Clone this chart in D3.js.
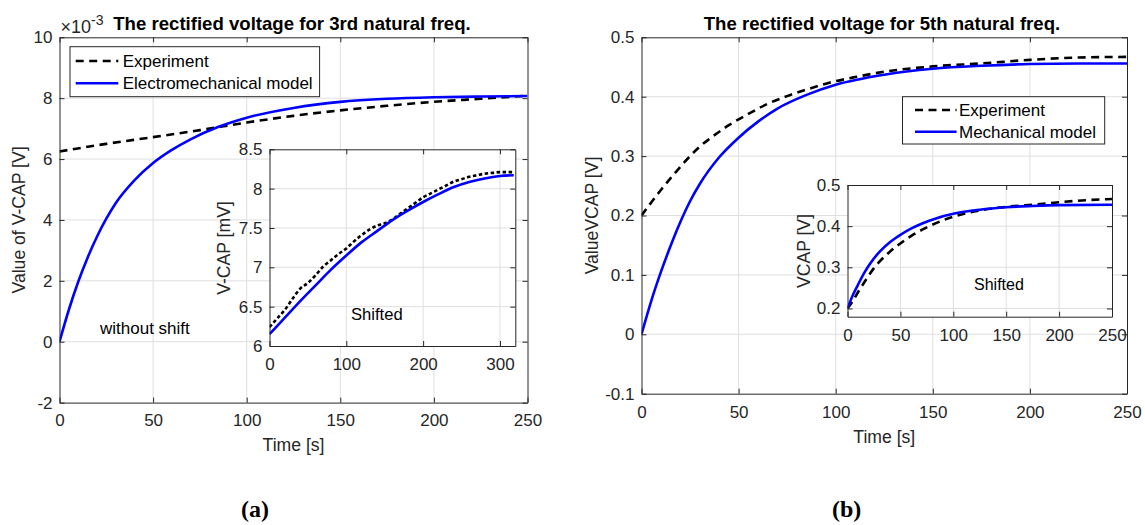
<!DOCTYPE html>
<html><head><meta charset="utf-8">
<script src="https://cdn.jsdelivr.net/npm/d3@7"></script>
<style>
body{margin:0;background:#fff;}
svg{display:block;font-family:"Liberation Sans",Arial,Helvetica,sans-serif;}
</style></head><body>
<svg id="chart" width="1145" height="525"></svg>
<script>
// ---------------- DATA ----------------
// Panel (a) main: 3rd natural frequency (values x 1e-3 V)
const timeA   = [0,5,10,15,20,25,30,40,50,60,70,85,100,125,150,175,200,225,250];
const modelA  = [0,1.05,1.97,2.76,3.45,4.04,4.55,5.3,5.87,6.3,6.65,7.06,7.36,7.68,7.88,7.98,8.03,8.055,8.07];
const timeExpA = [0,25,50,75,100,125,150,175,200,225,250];
const expA     = [6.25,6.5,6.72,6.95,7.2,7.42,7.6,7.75,7.88,7.98,8.08];
// Panel (a) inset (mV)
const timeInsA = [0,20,40,60,80,100,120,140,160,180,200,220,240,260,280,300,318];
const modelInsA = [6.15,6.36,6.57,6.77,6.97,7.15,7.32,7.46,7.6,7.72,7.83,7.93,8.02,8.085,8.13,8.16,8.17];
const timeExpInsA = [0,10,20,30,40,50,60,70,80,90,100,110,120,130,140,150,160,170,180,190,200,210,220,230,240,250,260,270,280,290,300,318];
const expInsA = [6.24,6.35,6.46,6.6,6.73,6.8,6.9,7.01,7.09,7.17,7.24,7.33,7.41,7.48,7.53,7.56,7.61,7.68,7.75,7.82,7.89,7.94,7.99,8.04,8.09,8.12,8.15,8.17,8.19,8.2,8.21,8.21];
// Panel (b) main: 5th natural frequency (V)
const timeB  = [0,5,10,15,20,25,30,40,50,60,70,85,100,125,150,175,200,225,250];
const modelB = [0,0.056,0.105,0.149,0.189,0.224,0.253,0.298,0.331,0.358,0.38,0.403,0.42,0.437,0.447,0.452,0.455,0.456,0.456];
const timeExpB = [0,5,10,15,20,25,30,35,45,55,65,75,85,95,110,125,150,175,200,225,250];
const expB     = [0.2,0.222,0.243,0.263,0.282,0.3,0.316,0.329,0.352,0.371,0.388,0.401,0.412,0.422,0.433,0.442,0.451,0.456,0.462,0.466,0.467];
// Panel (b) inset
const timeInsB  = [0,5,10,15,20,30,40,50,60,70,85,100,125,150,175,200,250];
const modelInsB = [0.2,0.232,0.258,0.283,0.304,0.337,0.361,0.379,0.394,0.406,0.42,0.43,0.44,0.446,0.449,0.451,0.452];
const timeExpInsB = [0,5,10,15,20,25,30,40,50,60,75,90,100,125,150,175,200,225,250];
const expInsB     = [0.2,0.218,0.24,0.26,0.28,0.298,0.313,0.338,0.358,0.376,0.397,0.414,0.423,0.438,0.447,0.452,0.458,0.463,0.466];

// Ticks
const xTicksMain = [0,50,100,150,200,250];
const yTicksA = [-2,0,2,4,6,8,10];
const xTicksInsA = [0,100,200,300];
const yTicksInsA = [6,6.5,7,7.5,8,8.5];
const yTicksB = [-0.1,0,0.1,0.2,0.3,0.4,0.5];
const xTicksInsB = [0,50,100,150,200,250];
const yTicksInsB = [0.2,0.3,0.4,0.5];

// Texts
const titleA = "The rectified voltage for 3rd natural freq.";
const titleB = "The rectified voltage for 5th natural freq.";
const legendA = ["Experiment","Electromechanical model"];
const legendB = ["Experiment","Mechanical model"];

// ---------------- DRAW ----------------
const svg = d3.select("#chart");
const AX = "#262626", GRID = "#dfdfdf", BLUE = "#0000ff";
const fmt = d => String(d);
let clipId = 0;

function axesBox(x, y, xt, yt, opts) {
  const g = svg.append("g");
  const [x0, x1] = x.range(), [yb, yt0] = y.range();
  g.append("rect").attr("x", x0).attr("y", yt0).attr("width", x1 - x0).attr("height", yb - yt0).attr("fill", "#fff");
  g.append("g").selectAll("line").data(xt.filter(d => x(d) > x0 + 1 && x(d) < x1 - 1)).join("line")
    .attr("x1", d => x(d)).attr("x2", d => x(d)).attr("y1", yb).attr("y2", yt0).attr("stroke", GRID).attr("stroke-width", 1);
  g.append("g").selectAll("line").data(yt.filter(d => y(d) < yb - 1 && y(d) > yt0 + 1)).join("line")
    .attr("y1", d => y(d)).attr("y2", d => y(d)).attr("x1", x0).attr("x2", x1).attr("stroke", GRID).attr("stroke-width", 1);
  const id = "clip" + (clipId++);
  svg.append("clipPath").attr("id", id).append("rect").attr("x", x0).attr("y", yt0).attr("width", x1 - x0).attr("height", yb - yt0);
  const curves = g.append("g").attr("clip-path", `url(#${id})`);
  return {g, curves, finish: () => {
    const f = svg.append("g").attr("font-size", opts.fs || 17);
    const bx = d3.axisBottom(x).tickValues(xt).tickFormat(fmt).tickSizeInner(-5).tickSizeOuter(0).tickPadding(opts.xpad || 11.8);
    const tx = d3.axisTop(x).tickValues(xt).tickFormat("").tickSizeInner(-5).tickSizeOuter(0);
    const ly = d3.axisLeft(y).tickValues(yt).tickFormat(fmt).tickSizeInner(-5).tickSizeOuter(0).tickPadding(opts.ypad || 7);
    const ry = d3.axisRight(y).tickValues(yt).tickFormat("").tickSizeInner(-5).tickSizeOuter(0);
    [[bx, `translate(0,${yb})`], [tx, `translate(0,${yt0})`], [ly, `translate(${x0},0)`], [ry, `translate(${x1},0)`]].forEach(([a, t]) => {
      const ag = f.append("g").attr("transform", t).call(a);
      ag.attr("font-family", null).attr("font-size", null);
      ag.selectAll("path,line").attr("stroke", AX).attr("stroke-width", 1);
      ag.selectAll("text").attr("fill", AX);
    });
  }};
}

function drawLine(parent, xs, ys, x, y, dashed, w, dash) {
  const line = d3.line().x((d, i) => x(xs[i])).y(d => y(d)).curve(d3.curveMonotoneX);
  parent.append("path").attr("d", line(ys)).attr("fill", "none")
    .attr("stroke", dashed ? "#000" : BLUE).attr("stroke-width", w || 2.6)
    .attr("stroke-dasharray", dashed ? (dash || "8,5.5") : null);
}

function legend(x0, y0, w, h, labels, lx0, lx1, tx, ys) {
  const g = svg.append("g");
  g.append("rect").attr("x", x0).attr("y", y0).attr("width", w).attr("height", h).attr("fill", "#fff").attr("stroke", AX).attr("stroke-width", 1);
  labels.forEach((lab, i) => {
    g.append("line").attr("x1", lx0).attr("x2", lx1).attr("y1", ys[i]).attr("y2", ys[i])
      .attr("stroke", i === 0 ? "#000" : BLUE).attr("stroke-width", 2.6).attr("stroke-dasharray", i === 0 ? "8,5.5" : null);
    g.append("text").attr("x", tx).attr("y", ys[i] + 6).attr("font-size", 17).attr("fill", "#000").text(lab);
  });
}

function text(x, y, s, o = {}) {
  const t = svg.append("text").attr("x", x).attr("y", y).attr("font-size", o.fs || 17).attr("fill", o.fill || AX)
    .attr("text-anchor", o.anchor || "start").attr("font-weight", o.bold ? "bold" : null).text(s);
  if (o.rot) t.attr("transform", `rotate(-90,${x},${y})`);
  if (o.family) t.attr("font-family", o.family);
  return t;
}

// ===== Panel (a) =====
const xA = d3.scaleLinear().domain([0, 250]).range([59.5, 527.5]);
const yA = d3.scaleLinear().domain([-2, 10]).range([402.6, 37.3]);
const A = axesBox(xA, yA, xTicksMain, yTicksA, {});
drawLine(A.curves, timeExpA, expA, xA, yA, true);
drawLine(A.curves, timeA, modelA, xA, yA, false);
A.finish();
legend(70, 46.7, 249.6, 50, legendA, 75.7, 118.3, 122.7, [61, 83.3]);
text(100, 334, "without shift", {fs: 17, fill: "#000"});

const xIA = d3.scaleLinear().domain([0, 320]).range([269.5, 515.3]);
const yIA = d3.scaleLinear().domain([6, 8.5]).range([346, 149.3]);
const IA = axesBox(xIA, yIA, xTicksInsA, yTicksInsA, {});
drawLine(IA.curves, timeExpInsA, expInsA, xIA, yIA, true, 2.6, "3.5,2.5");
drawLine(IA.curves, timeInsA, modelInsA, xIA, yIA, false);
IA.finish();
text(351, 320, "Shifted", {fs: 16.6, fill: "#000"});

text(292, 30, titleA, {fs: 18.6, bold: true, anchor: "middle", fill: "#000"});
const ex = text(60.5, 33, "×10", {fs: 18});
ex.append("tspan").attr("dy", -8).attr("font-size", 14).text("-3");
text(25.3, 220, "Value of V-CAP [V]", {fs: 17.6, anchor: "middle", rot: true});
text(230.3, 248, "V-CAP [mV]", {fs: 17.6, anchor: "middle", rot: true});
text(293.5, 451, "Time [s]", {fs: 17.6, anchor: "middle"});
text(255, 517, "(a)", {fs: 24, anchor: "middle", bold: true, fill: "#000", family: "'Liberation Serif','DejaVu Serif',serif"});

// ===== Panel (b) =====
const xB = d3.scaleLinear().domain([0, 250]).range([641.5, 1127]);
const yB = d3.scaleLinear().domain([-0.1, 0.5]).range([393.7, 37.3]);
const B = axesBox(xB, yB, xTicksMain, yTicksB, {});
drawLine(B.curves, timeExpB, expB, xB, yB, true);
drawLine(B.curves, timeB, modelB, xB, yB, false);
B.finish();
legend(902.5, 96.7, 202.2, 47.3, legendB, 915, 956.6, 959, [110, 131.7]);

const xIB = d3.scaleLinear().domain([0, 250]).range([847.5, 1112]);
const yIB = d3.scaleLinear().domain([0.18, 0.5]).range([316.7, 185]);
const IB = axesBox(xIB, yIB, xTicksInsB, yTicksInsB, {});
drawLine(IB.curves, timeExpInsB, expInsB, xIB, yIB, true);
drawLine(IB.curves, timeInsB, modelInsB, xIB, yIB, false);
IB.finish();
text(974, 290, "Shifted", {fs: 16, fill: "#000"});

text(882, 30, titleB, {fs: 18.6, bold: true, anchor: "middle", fill: "#000"});
text(598, 215.5, "ValueVCAP [V]", {fs: 17.6, anchor: "middle", rot: true});
text(810.3, 251, "VCAP [V]", {fs: 17.6, anchor: "middle", rot: true});
text(884.3, 443, "Time [s]", {fs: 17.6, anchor: "middle"});
text(846.7, 517, "(b)", {fs: 24, anchor: "middle", bold: true, fill: "#000", family: "'Liberation Serif','DejaVu Serif',serif"});
</script>
</body></html>
